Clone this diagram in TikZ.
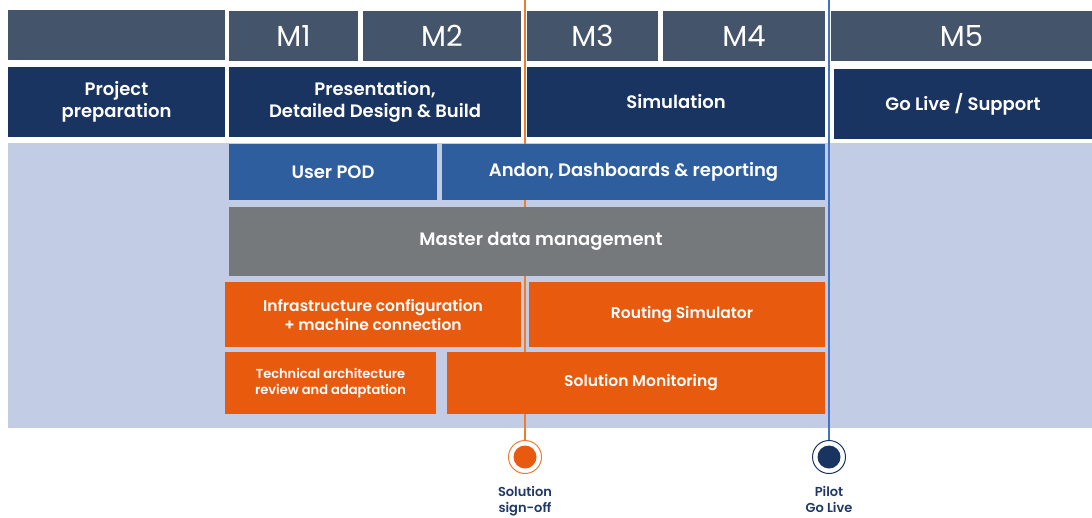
\documentclass[tikz,border=0pt]{standalone}
\usepackage{fontspec}
\setmainfont{Poppins}
\newfontfamily\pmed{Poppins SemiBold}
\usetikzlibrary{%
  positioning%
}
\definecolor{hdr}{HTML}{44546A}
\definecolor{navy}{HTML}{1A3461}
\definecolor{pale}{HTML}{C2CCE4}
\definecolor{podblue}{HTML}{2E5E9E}
\definecolor{mdgray}{HTML}{75797C}
\definecolor{tangerine}{HTML}{E85A0D}
\definecolor{signline}{HTML}{ED7D31}
\definecolor{liveline}{HTML}{4472C4}
\definecolor{mslabel}{HTML}{1F3864}

\begin{document}
\begin{tikzpicture}[x=1pt,y=-1pt,
  blk/.style={anchor=north west,inner sep=0pt,outer sep=0pt,text=white,align=center},
  month/.style={blk,fill=hdr,minimum height=50pt,font=\fontsize{29}{32}\selectfont},
  phase/.style={blk,fill=navy,minimum height=70pt,font=\pmed\fontsize{18}{22}\selectfont},
  task/.style={blk,font=\pmed\fontsize{18}{22}\selectfont},
  ring/.style={circle,draw=#1,line width=1pt,fill=white,minimum size=33pt,inner sep=0pt},
  msl/.style={align=center,inner sep=0pt,text=mslabel,font=\pmed\fontsize{13}{16}\selectfont}]
\useasboundingbox (0,0) rectangle (1092,517);

% background band
\fill[pale] (8,143) rectangle (1092,428);

% milestones (lines run behind the boxes)
\node[ring=signline] (sso) at (525,457) {};
\node[ring=navy] (pgl) at (829,457) {};
\fill[tangerine] (sso.center) circle (11.5pt);
\fill[navy] (pgl.center) circle (11.5pt);
\draw[signline,line width=2pt] (sso.north) -- ++(0,-447);
\draw[liveline,line width=2pt] (pgl.north) -- ++(0,-447);
\node[msl,below=12pt of sso] {Solution\\sign-off};
\node[msl,below=12pt of pgl] {Pilot\\Go Live};

% months
\node[month,minimum width=217pt] (h0) at (8,10) {};
\node[month,minimum width=129pt] (m1) at (229,11) {M1};
\node[month,minimum width=158pt] (m2) at (363,11) {M2};
\node[month,minimum width=131pt] (m3) at (527,11) {M3};
\node[month,minimum width=162pt] (m4) at (663,11) {M4};
\node[month,minimum width=261pt] (m5) at (831,11) {M5};

% phases
\node[phase,minimum width=217pt] (prep) at (8,67) {Project\\preparation};
\node[phase,minimum width=292pt] (pres) at (229,67) {Presentation,\\Detailed Design \& Build};
\node[phase,minimum width=298pt] (sim) at (527,67) {Simulation};
\node[phase,minimum width=258pt] (live) at (834,69) {Go Live / Support};

% work streams
\node[task,fill=podblue,minimum width=208pt,minimum height=56pt] (pod) at (229,144) {User POD};
\node[task,fill=podblue,minimum width=383pt,minimum height=56pt] (andon) at (442,144) {Andon, Dashboards \& reporting};
\node[task,fill=mdgray,minimum width=596pt,minimum height=69pt] (mdm) at (229,207) {\hspace{28pt}Master data management};
\node[task,fill=tangerine,minimum width=296pt,minimum height=65pt,font=\pmed\fontsize{15.5}{19}\selectfont] (infra) at (225,282) {Infrastructure configuration\\+ machine connection};
\node[task,fill=tangerine,minimum width=296pt,minimum height=65pt,font=\pmed\fontsize{15.5}{19}\selectfont] (route) at (529,282) {\hspace{10pt}Routing Simulator};
\node[task,fill=tangerine,minimum width=211pt,minimum height=62pt,font=\pmed\fontsize{13}{16}\selectfont] (tech) at (225,352) {Technical architecture\\review and adaptation};
\node[task,fill=tangerine,minimum width=378pt,minimum height=62pt,font=\pmed\fontsize{15.5}{19}\selectfont] (solmon) at (447,352) {\hspace{10pt}Solution Monitoring};
\end{tikzpicture}
\end{document}
